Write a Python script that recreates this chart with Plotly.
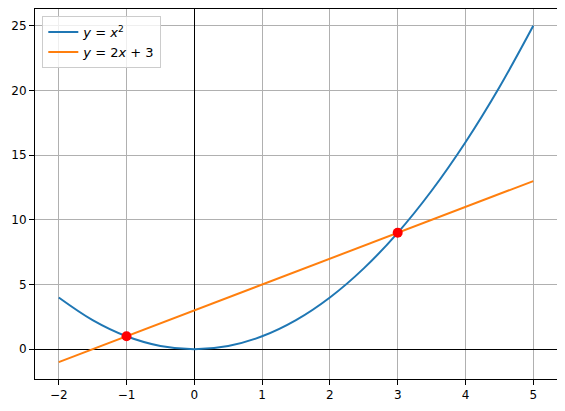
import plotly.graph_objects as go

# Curve y = x^2
curve_x = [-2, -1.5, -1, -0.5, 0, 0.5, 1, 1.5, 2, 2.5, 3, 3.5, 4, 4.5, 5]
curve_y = [4, 2.25, 1, 0.25, 0, 0.25, 1, 2.25, 4, 6.25, 9, 12.25, 16, 20.25, 25]

# Line y = 2x + 3 endpoints
line_x = [-2, 5]
line_y = [-1, 13]

# Intersection points
pts_x = [-1, 3]
pts_y = [1, 9]

x_ticks = [-2, -1, 0, 1, 2, 3, 4, 5]
y_ticks = [0, 5, 10, 15, 20, 25]

fig = go.Figure()
fig.add_trace(go.Scatter(x=curve_x, y=curve_y, mode="lines",
                         line=dict(color="#1f77b4", width=2, shape="spline"),
                         name="<i>y</i> = <i>x</i><sup>2</sup>"))
fig.add_trace(go.Scatter(x=line_x, y=line_y, mode="lines",
                         line=dict(color="#ff7f0e", width=2),
                         name="<i>y</i> = 2<i>x</i> + 3"))
fig.add_trace(go.Scatter(x=pts_x, y=pts_y, mode="markers",
                         marker=dict(color="red", size=10),
                         showlegend=False))

axis_common = dict(
    showgrid=True, gridcolor="#b0b0b0", gridwidth=1,
    zeroline=True, zerolinecolor="black", zerolinewidth=1,
    showline=True, linecolor="black", linewidth=1, mirror=True,
    ticks="outside", ticklen=5, tickcolor="black", tickwidth=1,
    tickfont=dict(family="DejaVu Sans", size=12, color="black"),
    automargin=False,
)

fig.update_xaxes(range=[-2.35, 5.35], tickvals=x_ticks, **axis_common)
fig.update_yaxes(range=[-2.3, 26.3], tickvals=y_ticks, **axis_common)

# page body adds an 8px offset, so the figure is sized to fill the rest
fig.update_layout(
    width=557, height=403,
    margin=dict(l=27, r=8, t=1, b=32),
    plot_bgcolor="white", paper_bgcolor="white",
    font=dict(family="DejaVu Sans", size=12, color="black"),
    legend=dict(x=0.014, y=0.981, xanchor="left", yanchor="top",
                bgcolor="rgba(255,255,255,0.8)", bordercolor="#cccccc",
                borderwidth=1, font=dict(size=13)),
)

fig.write_html("out.html")
